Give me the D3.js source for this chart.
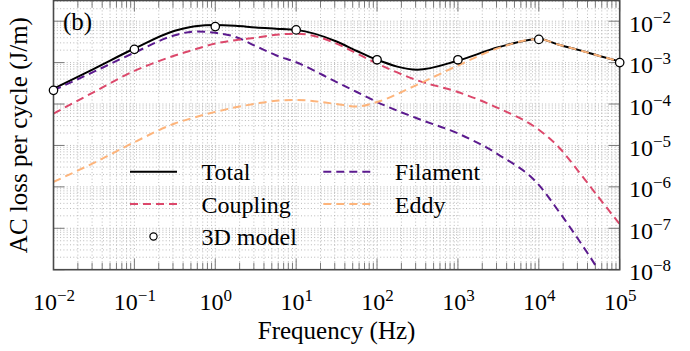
<!DOCTYPE html>
<html><head><meta charset="utf-8">
<script src="https://cdn.jsdelivr.net/npm/d3@7/dist/d3.min.js"></script>
<style>
body{margin:0;background:#fff}
svg{display:block}
text{font-family:"Liberation Serif","Times New Roman",serif;fill:#000}
</style>
</head><body>
<svg id="c" width="690" height="351"></svg>
<script>
// ---- data ----
const freq = [0.01, 0.0316, 0.1, 0.316, 0.562, 1, 1.78, 3.16, 5.62, 10, 31.6, 56.2, 100, 316, 1000, 3162, 10000, 17783, 31623, 56234, 100000];
const total    = [2.34e-4, 7.08e-4, 2.19e-3, 5.89e-3, 7.59e-3, 8.13e-3, 7.76e-3, 7.08e-3, 6.61e-3, 6.17e-3, 3.24e-3, 1.91e-3, 1.17e-3, 6.76e-4, 1.12e-3, 2.34e-3, 3.72e-3, 2.69e-3, 2.00e-3, 1.45e-3, 1.07e-3];
const filament = [2.14e-4, 6.03e-4, 1.74e-3, 4.57e-3, 5.62e-3, 5.25e-3, 4.17e-3, 2.51e-3, 1.51e-3, 1.02e-3, 3.39e-4, 1.95e-4, 1.12e-4, 4.47e-5, 1.95e-5, 6.03e-6, 1.12e-6, 2.51e-7, 5.01e-8, 8.91e-9, 1.26e-9];
const coupling = [5.89e-5, 1.95e-4, 6.31e-4, 1.48e-3, 2.09e-3, 2.88e-3, 3.47e-3, 3.98e-3, 4.68e-3, 5.01e-3, 2.88e-3, 1.66e-3, 9.55e-4, 3.72e-4, 1.95e-4, 7.94e-5, 2.40e-5, 8.91e-6, 2.24e-6, 5.25e-7, 1.26e-7];
const eddy     = [1.32e-6, 3.80e-6, 1.20e-5, 3.39e-5, 4.79e-5, 6.46e-5, 8.32e-5, 1.02e-4, 1.20e-4, 1.26e-4, 1.00e-4, 8.71e-5, 1.12e-4, 2.95e-4, 8.51e-4, 2.24e-3, 3.72e-3, 2.69e-3, 2.00e-3, 1.45e-3, 1.07e-3];
const modelFreq = [0.01, 0.1, 1, 10, 100, 1000, 10000, 100000];
const model     = [2.14e-4, 2.09e-3, 7.41e-3, 6.17e-3, 1.17e-3, 1.17e-3, 3.63e-3, 1.00e-3];
const xTickExp = [-2, -1, 0, 1, 2, 3, 4, 5];
const yTickExp = [-8, -7, -6, -5, -4, -3, -2];
const seriesNames = ["Total", "Filament", "Coupling", "Eddy"];
const seriesColors = ["#000000", "#5b1a8e", "#dc486b", "#fdb47b"];
const panelLabel = "(b)";
const xTitle = "Frequency (Hz)";
const yTitle = "AC loss per cycle (J/m)";

// ---- layout ----
const L = 53.5, R = 619.7, T = 0.5, B = 269.7;
const svg = d3.select("#c");
const x = d3.scaleLog().domain([1e-2, 1e5]).range([L, R]);
const y = d3.scaleLog().domain([1e-8, 0.0316]).range([B, T]);
const isMajor = v => Math.abs(Math.log10(v) - Math.round(Math.log10(v))) < 1e-6;

svg.append("defs").append("clipPath").attr("id", "clip")
  .append("rect").attr("x", L).attr("y", T).attr("width", R - L).attr("height", B - T);

// grid
const grid = svg.append("g").attr("stroke", "#b2b2b2").attr("stroke-width", 0.9)
  .attr("stroke-dasharray", "1,2.3");
x.ticks().forEach(v => {
  if (x(v) <= L + 0.5 || x(v) >= R - 0.5) return;
  grid.append("line").attr("x1", x(v)).attr("x2", x(v)).attr("y1", T).attr("y2", B);
});
y.ticks().forEach(v => {
  if (y(v) <= T + 0.5 || y(v) >= B - 0.5) return;
  grid.append("line").attr("y1", y(v)).attr("y2", y(v)).attr("x1", L).attr("x2", R);
});

// ticks
const tk = svg.append("g").attr("stroke", "#7a7a7a").attr("stroke-width", 1);
x.ticks().forEach(v => {
  const len = isMajor(v) ? 11 : 7;
  tk.append("line").attr("x1", x(v)).attr("x2", x(v)).attr("y1", B).attr("y2", B - len);
  tk.append("line").attr("x1", x(v)).attr("x2", x(v)).attr("y1", T).attr("y2", T + len);
});
yTickExp.forEach(e => {
  const v = Math.pow(10, e);
  tk.append("line").attr("x1", L).attr("x2", L + 11).attr("y1", y(v)).attr("y2", y(v));
  tk.append("line").attr("x1", R).attr("x2", R - 11).attr("y1", y(v)).attr("y2", y(v));
});

// series
const line = d3.line().x(d => x(d[0])).y(d => y(d[1])).curve(d3.curveMonotoneX);
const plot = svg.append("g").attr("clip-path", "url(#clip)");
[total, filament, coupling, eddy].forEach((vals, i) => {
  plot.append("path")
    .datum(freq.map((f, j) => [f, vals[j]]))
    .attr("d", line)
    .attr("fill", "none")
    .attr("stroke", seriesColors[i])
    .attr("stroke-width", 2)
    .attr("stroke-dasharray", i === 0 ? null : "8,5");
});

// frame
svg.append("rect").attr("x", L).attr("y", T).attr("width", R - L).attr("height", B - T)
  .attr("fill", "none").attr("stroke", "#4a4a4a").attr("stroke-width", 1.6);

// 3D model points
svg.append("g").selectAll("circle").data(modelFreq.map((f, j) => [f, model[j]])).join("circle")
  .attr("cx", d => x(d[0])).attr("cy", d => y(d[1])).attr("r", 4.2)
  .attr("fill", "#fff").attr("stroke", "#000").attr("stroke-width", 1.3);

// tick labels
function powLabel(g, e, xx, yy, anchor) {
  const t = g.append("text").attr("x", xx).attr("y", yy).attr("text-anchor", anchor)
    .attr("font-size", 24);
  t.append("tspan").text("10");
  t.append("tspan").attr("dy", -9).attr("font-size", 17).text(e < 0 ? "\u2212" + (-e) : String(e));
}
const labs = svg.append("g");
xTickExp.forEach(e => powLabel(labs, e, x(Math.pow(10, e)) + 0.5, 310, "middle"));
yTickExp.forEach(e => powLabel(labs, e, 629, y(Math.pow(10, e)) + 10.5, "start"));

// titles
svg.append("text").attr("x", (L + R) / 2).attr("y", 339).attr("text-anchor", "middle")
  .attr("font-size", 25).text(xTitle);
svg.append("text").attr("transform", `translate(27,${(T + B) / 2}) rotate(-90)`)
  .attr("text-anchor", "middle").attr("font-size", 25).text(yTitle);
svg.append("text").attr("x", 63).attr("y", 29.5).attr("font-size", 25).text(panelLabel);

// legend
const lg = svg.append("g");
const legendItems = [
  {name: seriesNames[0], color: seriesColors[0], dash: null, col: 0, row: 0},
  {name: seriesNames[1], color: seriesColors[1], dash: "8,5", col: 1, row: 0},
  {name: seriesNames[2], color: seriesColors[2], dash: "8,5", col: 0, row: 1},
  {name: seriesNames[3], color: seriesColors[3], dash: "8,5", col: 1, row: 1},
  {name: "3D model", marker: true, col: 0, row: 2}
];
const colX = [130, 323.3], rowY = [171.7, 204, 236.5];
legendItems.forEach(it => {
  const x0 = colX[it.col], yy = rowY[it.row];
  if (it.marker) {
    lg.append("circle").attr("cx", x0 + 23.5).attr("cy", yy).attr("r", 3.6)
      .attr("fill", "#fff").attr("stroke", "#000").attr("stroke-width", 1.2);
  } else {
    lg.append("line").attr("x1", x0).attr("x2", x0 + 47).attr("y1", yy).attr("y2", yy)
      .attr("stroke", it.color).attr("stroke-width", 2).attr("stroke-dasharray", it.dash);
  }
  lg.append("text").attr("x", x0 + 71.5).attr("y", yy + 8.5).attr("font-size", 24).text(it.name);
});
</script>
</body></html>
